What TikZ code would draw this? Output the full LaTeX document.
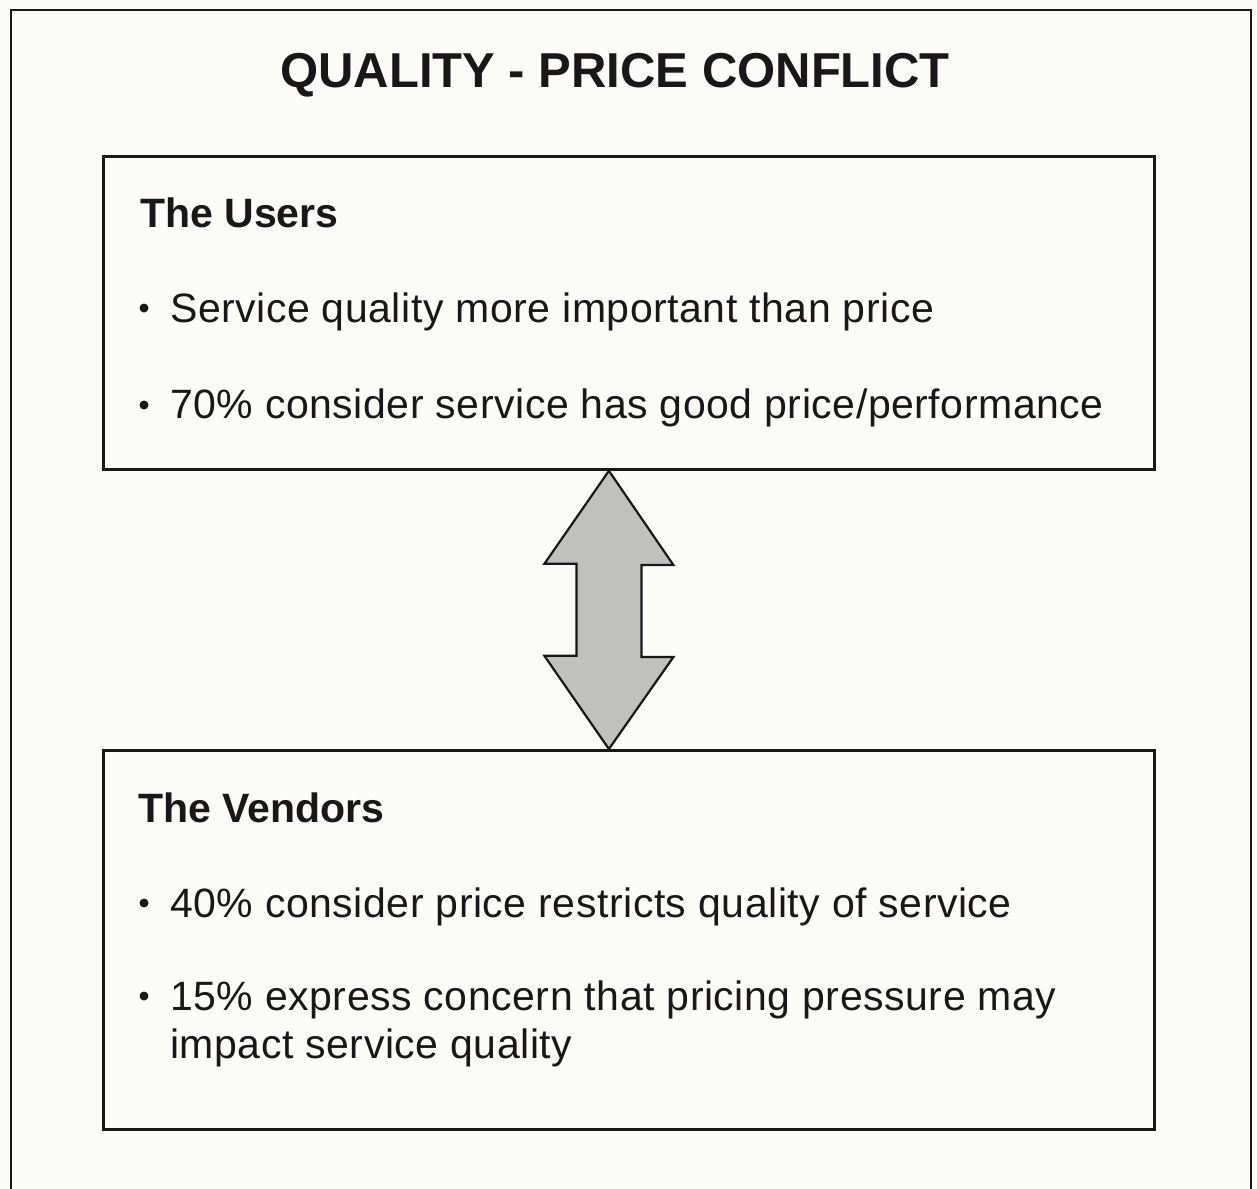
\documentclass[tikz,border=0pt]{standalone}
\usepackage{fontspec}
\setmainfont{Liberation Sans}
\newfontfamily\bodyfont[LetterSpace=1.3]{Liberation Sans}
\usetikzlibrary{calc}
\definecolor{paper}{HTML}{FBFBF8}
\definecolor{ink}{HTML}{1A1718}
\definecolor{arrowfill}{HTML}{C0C0BE}
\begin{document}
\begin{tikzpicture}[x=1pt,y=-1pt,
  frame/.style={draw=ink,line width=1.8pt},
  box/.style={draw=ink,line width=2.8pt,anchor=north west,inner sep=0pt},
  titletext/.style={anchor=base,inner sep=0pt,text=ink,font=\fontsize{49}{58}\selectfont\bfseries},
  headtext/.style={anchor=base west,inner sep=0pt,text=ink,font=\fontsize{41}{48}\selectfont\bfseries},
  bodytext/.style={anchor=base west,inner sep=0pt,text=ink,font=\bodyfont\fontsize{41}{48}\selectfont},
  dot/.style={circle,fill=ink,inner sep=0pt,minimum size=9pt},
  blockarrow/.style={draw=ink,line width=2.2pt,fill=arrowfill,line join=miter}
]
\clip (0,0) rectangle (1257,1188);
\fill[paper] (0,0) rectangle (1257,1188);
\draw[frame] (11,10) rectangle (1251,1210);

\node[titletext] (title) at (615,88) {QUALITY - PRICE CONFLICT};

% Users box
\node[box,minimum width=1051pt,minimum height=313pt] (users) at (102,155) {};
\node[headtext] (uhead) at (140,227) {The Users};
\node[dot] (ub1) at (144,308) {};
\node[bodytext] (ut1) at (170,322) {Service quality more important than price};
\node[dot] (ub2) at (144,405) {};
\node[bodytext] (ut2) at (170,418) {70\% consider service has good price/performance};

% Vendors box
\node[box,minimum width=1051pt,minimum height=379pt] (vendors) at (102,749) {};
\node[headtext] (vhead) at (138,822) {The Vendors};
\node[dot] (vb1) at (144,903) {};
\node[bodytext] (vt1) at (170,917) {40\% consider price restricts quality of service};
\node[dot] (vb2) at (144,996) {};
\node[bodytext] (vt2) at (170,1010) {15\% express concern that pricing pressure may};
\node[bodytext] (vt3) at (170,1058) {impact service quality};

% double block arrow between the boxes
\path (users.south) ++(-20,0) coordinate (atop);
\path (vendors.north) ++(-20,0) coordinate (abot);
\draw[blockarrow] (atop) -- ++(-64.5,93) -- ++(32,0) -- ++(0,92)
  -- ++(-32,0) -- (abot) -- ++(64.5,-92) -- ++(-32,0) -- ++(0,-92)
  -- ++(32,0) -- cycle;
\end{tikzpicture}
\end{document}
